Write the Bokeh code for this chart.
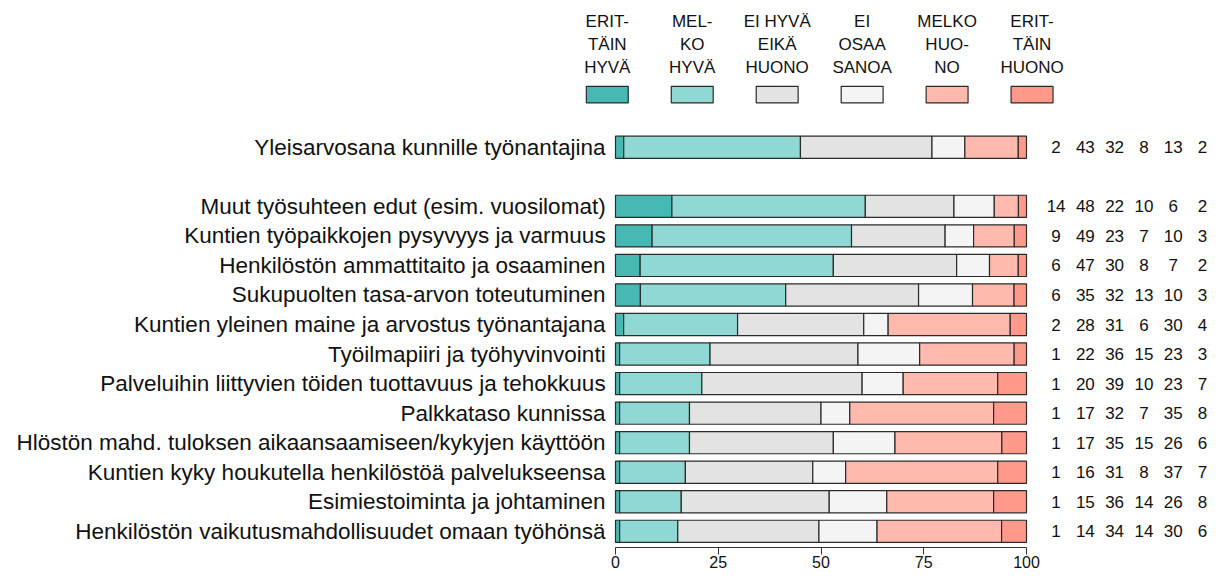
from bokeh.plotting import figure
from bokeh.models import ColumnDataSource, Range1d, FixedTicker
from bokeh.core.properties import value
from bokeh.embed import file_html
from bokeh.resources import INLINE

# ---------------- data ----------------
categories = [
    "Yleisarvosana kunnille työnantajina",
    "Muut työsuhteen edut (esim. vuosilomat)",
    "Kuntien työpaikkojen pysyvyys ja varmuus",
    "Henkilöstön ammattitaito ja osaaminen",
    "Sukupuolten tasa-arvon toteutuminen",
    "Kuntien yleinen maine ja arvostus työnantajana",
    "Työilmapiiri ja työhyvinvointi",
    "Palveluihin liittyvien töiden tuottavuus ja tehokkuus",
    "Palkkataso kunnissa",
    "Hlöstön mahd. tuloksen aikaansaamiseen/kykyjen käyttöön",
    "Kuntien kyky houkutella henkilöstöä palvelukseensa",
    "Esimiestoiminta ja johtaminen",
    "Henkilöstön vaikutusmahdollisuudet omaan työhönsä",
]
erittain_hyva = [2, 14, 9, 6, 6, 2, 1, 1, 1, 1, 1, 1, 1]
melko_hyva = [43, 48, 49, 47, 35, 28, 22, 20, 17, 17, 16, 15, 14]
ei_hyva_eika_huono = [32, 22, 23, 30, 32, 31, 36, 39, 32, 35, 31, 36, 34]
ei_osaa_sanoa = [8, 10, 7, 8, 13, 6, 15, 10, 7, 15, 8, 14, 14]
melko_huono = [13, 6, 10, 7, 10, 30, 23, 23, 35, 26, 37, 26, 30]
erittain_huono = [2, 2, 3, 2, 3, 4, 3, 7, 8, 6, 7, 8, 6]

legend_labels = ["ERIT-\nTÄIN\nHYVÄ", "MEL-\nKO\nHYVÄ", "EI HYVÄ\nEIKÄ\nHUONO",
                 "EI\nOSAA\nSANOA", "MELKO\nHUO-\nNO", "ERIT-\nTÄIN\nHUONO"]
colors = ["#46b9b2", "#8fd8d3", "#e3e3e3", "#f4f4f4", "#ffb9ad", "#ff9a8b"]
x_ticks = [0, 25, 50, 75, 100]

series = [erittain_hyva, melko_hyva, ei_hyva_eika_huono, ei_osaa_sanoa, melko_huono, erittain_huono]

# ---------------- layout helpers ----------------
W, H = 1220, 570
FONT = value("Liberation Sans")
# row positions: first row, a blank gap, then the remaining rows (top to bottom)
row_pos = [0] + [i + 2 for i in range(len(categories) - 1)]
y_rows = [-r for r in row_pos]

PX_PER_UNIT_X = 4.11          # screen px per percent
X0_SCREEN = 615               # frame px of value 0
PX_PER_ROW = 29.6
ROW0_SCREEN = 147             # frame px of first row centre
FRAME_H = 548                 # expected frame height (px)

x_start = -X0_SCREEN / PX_PER_UNIT_X
x_end = (W - X0_SCREEN) / PX_PER_UNIT_X
y_top = ROW0_SCREEN / PX_PER_ROW
y_bottom = -(FRAME_H - ROW0_SCREEN) / PX_PER_ROW

p = figure(width=W, height=H, output_backend="svg", toolbar_location=None,
           x_range=Range1d(x_start, x_end), y_range=Range1d(y_bottom, y_top),
           y_axis_type=None, min_border_left=0, min_border_right=0,
           min_border_top=0, min_border_bottom=0, outline_line_color=None)
p.grid.visible = False
p.background_fill_color = "white"

# ---------------- stacked bars (normalised to 100) ----------------
totals = [sum(vals) for vals in zip(*series)]
cum = [0.0] * len(categories)
for vals, col in zip(series, colors):
    left = list(cum)
    right = [c + v / t * 100 for c, v, t in zip(cum, vals, totals)]
    cum = right
    src = ColumnDataSource(dict(y=y_rows, left=left, right=right))
    p.hbar(y="y", left="left", right="right", height=0.75, source=src,
           fill_color=col, line_color="#2b2b2b", line_width=1.2)

# ---------------- category labels ----------------
p.text(x=[-2.4] * len(categories), y=y_rows, text=categories,
       text_align="right", text_baseline="middle", text_font=FONT,
       text_font_size="22.5px", text_color="#111111")

# ---------------- numbers at the right ----------------
num_x0, num_dx = 107.2, 7.12
for j, vals in enumerate(series):
    p.text(x=[num_x0 + j * num_dx] * len(vals), y=y_rows, text=[str(v) for v in vals],
           text_align="center", text_baseline="middle", text_font=FONT,
           text_font_size="17px", text_color="#111111")

# ---------------- legend ----------------
leg_x = [-2.0 + 20.67 * i for i in range(len(legend_labels))]
leg_box_y = (ROW0_SCREEN - 94.3) / PX_PER_ROW
leg_txt_y = (ROW0_SCREEN - 44.0) / PX_PER_ROW
p.rect(x=leg_x, y=[leg_box_y] * 6, width=10.2, height=16.7 / PX_PER_ROW,
       fill_color=colors, line_color="#2b2b2b", line_width=1.2)
p.text(x=leg_x, y=[leg_txt_y] * 6, text=legend_labels, text_align="center",
       text_baseline="middle", text_font=FONT, text_font_size="17px",
       text_color="#111111", text_line_height=1.2)

# ---------------- axis ----------------
ax = p.xaxis[0]
ax.ticker = FixedTicker(ticks=x_ticks)
ax.bounds = (0, 100)
ax.axis_line_color = "#333333"
ax.major_tick_line_color = "#333333"
ax.major_tick_in = 0
ax.major_tick_out = 7
ax.minor_tick_line_color = None
ax.major_label_standoff = 1
ax.major_label_text_font = "Liberation Sans"
ax.major_label_text_font_size = "16px"
ax.major_label_text_color = "#111111"

open("out.html", "w").write(file_html(p, INLINE))
